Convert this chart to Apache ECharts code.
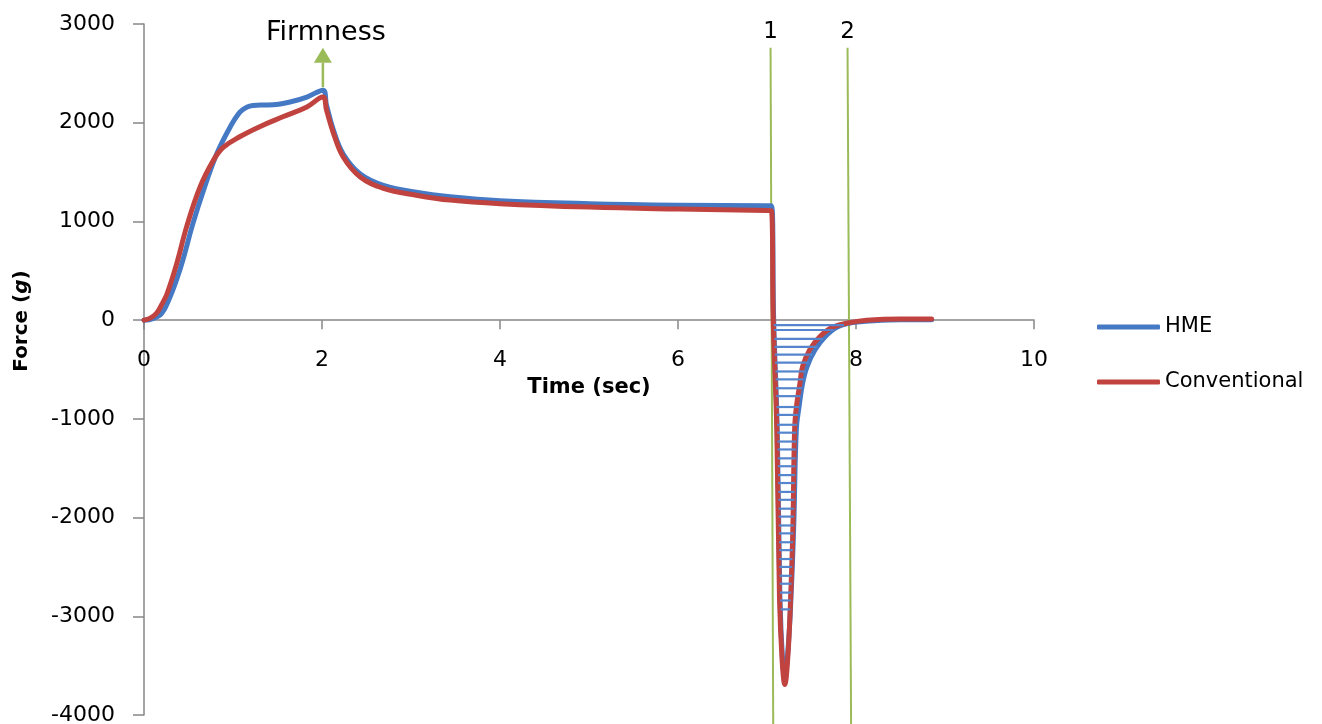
<!DOCTYPE html>
<html>
<head>
<meta charset="utf-8">
<title>Texture profile</title>
<script src="https://cdn.jsdelivr.net/npm/echarts@6/dist/echarts.min.js"></script>
<style>
  html, body { margin: 0; padding: 0; background: #ffffff; }
  #chart { width: 1322px; height: 724px; }
</style>
</head>
<body>
<div id="chart"></div>
<script>
// Texture analyser force–time curves (two compression cycles)
const hmeTime = [0, 0.1, 0.2, 0.29, 0.37, 0.44, 0.55, 0.67, 0.82, 0.97, 1.08, 1.16, 1.23, 1.35, 1.45, 1.64, 1.83, 2.01,
  2.05, 2.13, 2.24, 2.43, 2.69, 3.06, 3.44, 4.0, 5.0, 6.0, 7.0, 7.05,
  7.075, 7.115, 7.145, 7.175, 7.2, 7.235, 7.27, 7.3, 7.33, 7.36, 7.4, 7.45, 7.54, 7.65, 7.79, 7.96, 8.2, 8.5, 8.85];
const hmeForce = [0, 15, 70, 230, 420, 620, 980, 1320, 1690, 1960, 2110, 2160, 2175, 2180, 2182, 2210, 2260, 2330,
  2180, 1920, 1680, 1480, 1365, 1295, 1250, 1210, 1180, 1165, 1160, 1160,
  0, -1100, -2800, -3450, -3600, -3350, -2800, -2100, -1100, -880, -640, -470, -300, -170, -70, -25, -5, 5, 5];

const convTime = [0, 0.07, 0.14, 0.2, 0.26, 0.37, 0.48, 0.63, 0.78, 0.89, 1.08, 1.3, 1.56, 1.83, 2.01,
  2.05, 2.13, 2.24, 2.43, 2.69, 3.06, 3.44, 4.0, 5.0, 6.0, 7.0, 7.05,
  7.07, 7.11, 7.14, 7.17, 7.2, 7.235, 7.266, 7.29, 7.31, 7.33, 7.37, 7.4, 7.48, 7.59, 7.74, 7.93, 8.12, 8.5, 8.85];
const convForce = [0, 20, 70, 160, 270, 580, 950, 1350, 1620, 1750, 1860, 1960, 2060, 2160, 2260,
  2130, 1890, 1650, 1450, 1335, 1266, 1216, 1180, 1145, 1125, 1110, 1108,
  0, -1110, -2800, -3450, -3690, -3400, -2800, -2130, -1110, -880, -640, -470, -300, -170, -70, -25, 0, 12, 12];

// Force levels of the horizontal hatching that marks the adhesive (negative) area of HME
const hatchLevels = [-50, -100, -190, -270, -350, -430, -520, -600, -690, -770, -880, -960, -1060, -1140,
  -1230, -1310, -1400, -1480, -1570, -1650, -1740, -1820, -1910, -1990, -2080, -2160, -2250, -2330,
  -2420, -2500, -2590, -2670, -2760, -2840, -2930];

// Vertical reference lines 1 and 2 (second compression cycle)
const markerLabels = ['1', '2'];
const markerTopTime = [7.04, 7.905];
const markerBottomTime = [7.07, 7.945];
const markerTopForce = 2760;
const markerBottomForce = -4100;

// Firmness arrow at the first peak
const firmnessTime = 2.01;
const firmnessBase = 2360;
const firmnessTip = 2760;

// Axis ticks
const xTickValues = [0, 2, 4, 6, 8, 10];
const xTickStep = 2;
const yTickStep = 1000;
const xAxisTitle = 'Time (sec)';

const FONT = '"DejaVu Sans", "Liberation Sans", sans-serif';
const BLUE = '#4579c4';
const RED = '#c0433f';
const GREEN = '#9bbb59';
const AXIS = '#868686';

function pairs(t, f) { return t.map((v, i) => [v, f[i]]); }

// time at which the curve crosses a given force level, scanning indices from -> to
function crossTime(times, forces, from, to, level) {
  const step = from <= to ? 1 : -1;
  for (let i = from; i !== to; i += step) {
    const a = forces[i], b = forces[i + step];
    if ((a - level) * (b - level) <= 0 && a !== b) {
      return times[i] + (level - a) / (b - a) * (times[i + step] - times[i]);
    }
  }
  return null;
}

const hmeMinIdx = hmeForce.indexOf(Math.min(...hmeForce));
const hmeDropIdx = hmeTime.indexOf(7.05);
const hatchData = hatchLevels.map(lv => [
  crossTime(hmeTime, hmeForce, hmeDropIdx, hmeMinIdx, lv),
  lv,
  crossTime(hmeTime, hmeForce, hmeMinIdx, hmeForce.length - 1, lv)
]);

const markerData = markerLabels.map((lab, i) => [markerTopTime[i], markerTopForce, markerBottomTime[i], markerBottomForce]);

const chart = echarts.init(document.getElementById('chart'), null, { renderer: 'canvas' });

chart.setOption({
  animation: false,
  backgroundColor: '#ffffff',
  grid: { left: 144, right: 288, top: 24, bottom: 9, containLabel: false, outerBoundsMode: 'none' },
  legend: {
    data: ['HME', 'Conventional'],
    orient: 'vertical',
    left: 1092,
    top: 310,
    icon: 'roundRect',
    itemWidth: 63,
    itemHeight: 5,
    itemGap: 31,
    selectedMode: false,
    textStyle: { fontFamily: FONT, fontSize: 21, color: '#000', lineHeight: 24, padding: [0, 0, 0, 0] }
  },
  xAxis: {
    type: 'value',
    min: 0,
    max: 10,
    interval: xTickStep,
    axisLine: { show: true, onZero: true, lineStyle: { color: AXIS, width: 1.5 } },
    axisTick: { show: true, length: 9, lineStyle: { color: AXIS, width: 1.5 } },
    axisLabel: { show: false },
    splitLine: { show: false }
  },
  yAxis: {
    type: 'value',
    min: -4000,
    max: 3000,
    interval: yTickStep,
    axisLine: { show: true, onZero: false, lineStyle: { color: AXIS, width: 1.5 } },
    axisTick: { show: true, length: 11, lineStyle: { color: AXIS, width: 1.5 } },
    axisLabel: { fontFamily: FONT, fontSize: 22, color: '#000', margin: 29, formatter: v => String(v) },
    splitLine: { show: false }
  },
  graphic: [{
    type: 'text',
    x: 22,
    y: 321,
    rotation: Math.PI / 2,
    style: {
      text: '{b|Force (}{i|g}{b|)}',
      align: 'center',
      verticalAlign: 'middle',
      rich: {
        b: { fontFamily: FONT, fontSize: 20, fontWeight: 'bold', fill: '#000' },
        i: { fontFamily: FONT, fontSize: 20, fontWeight: 'bold', fontStyle: 'italic', fill: '#000' }
      }
    }
  }],
  series: [
    {
      // time tick labels hanging under the zero line, plus the axis title
      type: 'custom',
      silent: true,
      clip: false,
      z: 1,
      data: xTickValues.map(v => [v, 0]),
      encode: { x: 0, y: 1 },
      renderItem: (params, api) => {
        const p = api.coord([api.value(0), api.value(1)]);
        const children = [
          { type: 'text', x: p[0], y: p[1] + 40,
            style: { text: String(api.value(0)), align: 'center', verticalAlign: 'middle',
                     fontFamily: FONT, fontSize: 22, fill: '#000' } }
        ];
        if (params.dataIndex === 0) {
          const mid = api.coord([(xTickValues[0] + xTickValues[xTickValues.length - 1]) / 2, 0]);
          children.push({ type: 'text', x: mid[0], y: mid[1] + 67,
            style: { text: xAxisTitle, align: 'center', verticalAlign: 'middle',
                     fontFamily: FONT, fontSize: 21, fontWeight: 'bold', fill: '#000' } });
        }
        return { type: 'group', children };
      }
    },
    {
      // reference lines 1 and 2
      type: 'custom',
      silent: true,
      z: 1,
      clip: false,
      data: markerData,
      encode: { x: [0, 2], y: [1, 3] },
      renderItem: (params, api) => {
        const top = api.coord([api.value(0), api.value(1)]);
        const bot = api.coord([api.value(2), api.value(3)]);
        return {
          type: 'group',
          children: [
            { type: 'line', shape: { x1: top[0], y1: top[1], x2: bot[0], y2: bot[1] },
              style: { stroke: GREEN, lineWidth: 2 } },
            { type: 'text', x: top[0], y: top[1] - 16,
              style: { text: markerLabels[params.dataIndex], align: 'center', verticalAlign: 'middle',
                       fontFamily: FONT, fontSize: 23, fill: '#000' } }
          ]
        };
      }
    },
    {
      name: 'HME',
      type: 'line',
      data: pairs(hmeTime, hmeForce),
      showSymbol: false,
      symbol: 'none',
      smooth: 0.4,
      z: 2,
      silent: true,
      color: BLUE,
      lineStyle: { color: BLUE, width: 5, cap: 'round', join: 'round' }
    },
    {
      name: 'Conventional',
      type: 'line',
      data: pairs(convTime, convForce),
      showSymbol: false,
      symbol: 'none',
      smooth: 0.4,
      z: 3,
      silent: true,
      color: RED,
      lineStyle: { color: RED, width: 5, cap: 'round', join: 'round' }
    },
    {
      // hatching inside the HME negative peak
      type: 'custom',
      silent: true,
      z: 4,
      data: hatchData,
      encode: { x: [0, 2], y: 1 },
      renderItem: (params, api) => {
        const p1 = api.coord([api.value(0), api.value(1)]);
        const p2 = api.coord([api.value(2), api.value(1)]);
        return { type: 'line', shape: { x1: p1[0], y1: p1[1], x2: p2[0], y2: p2[1] },
                 style: { stroke: '#5585cc', lineWidth: 2.2 } };
      }
    },
    {
      // firmness arrow and label
      type: 'custom',
      silent: true,
      z: 5,
      clip: false,
      data: [[firmnessTime, firmnessBase, firmnessTip]],
      encode: { x: 0, y: [1, 2] },
      renderItem: (params, api) => {
        const base = api.coord([api.value(0), api.value(1)]);
        const tip = api.coord([api.value(0), api.value(2)]);
        const headH = 15, headW = 9;
        return {
          type: 'group',
          children: [
            { type: 'line', shape: { x1: base[0], y1: base[1], x2: tip[0], y2: tip[1] + headH },
              style: { stroke: GREEN, lineWidth: 2.5 } },
            { type: 'polygon', shape: { points: [[tip[0], tip[1]], [tip[0] - headW, tip[1] + headH], [tip[0] + headW, tip[1] + headH]] },
              style: { fill: GREEN } },
            { type: 'text', x: tip[0] + 3, y: tip[1] - 15,
              style: { text: 'Firmness', align: 'center', verticalAlign: 'middle',
                       fontFamily: FONT, fontSize: 27, fill: '#000' } }
          ]
        };
      }
    }
  ]
});
</script>
</body>
</html>
